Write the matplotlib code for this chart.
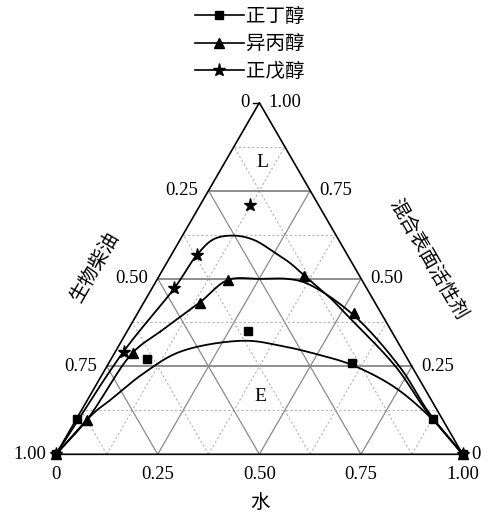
import numpy as np
import matplotlib
matplotlib.use("Agg")
import matplotlib.pyplot as plt
from matplotlib.lines import Line2D

plt.rcParams['font.family'] = ['Liberation Serif', 'Noto Sans CJK SC']

# measured points, (water, surfactant) fractions; biodiesel = 1 - water - surfactant
butanol_water = [0.0, 0.002, 0.088, 0.297, 0.598, 0.876, 1.0]
butanol_surf = [0.0, 0.100, 0.271, 0.352, 0.261, 0.100, 0.0]
ipa_water = [0.0, 0.027, 0.046, 0.139, 0.174, 0.356, 0.531, 1.0]
ipa_surf = [0.0, 0.098, 0.289, 0.431, 0.496, 0.507, 0.403, 0.0]
pentanol_water = [0.0, 0.022, 0.053, 0.063, 0.122, 1.0]
pentanol_surf = [0.0, 0.292, 0.472, 0.567, 0.709, 0.0]

# fitted binodal curves
butanol_curve_w = [0.0, 0.034, 0.056, 0.100, 0.160, 0.300, 0.397, 0.509, 0.601, 0.735, 0.875, 1.0]
butanol_curve_s = [0.0, 0.117, 0.154, 0.230, 0.292, 0.323, 0.309, 0.282, 0.254, 0.192, 0.100, 0.0]
ipa_curve_w = [0.0, 0.027, 0.044, 0.082, 0.110, 0.139, 0.175, 0.253, 0.319, 0.374, 0.529, 0.725, 0.856, 1.0]
ipa_curve_s = [0.0, 0.098, 0.289, 0.349, 0.391, 0.434, 0.496, 0.499, 0.499, 0.486, 0.399, 0.245, 0.120, 0.0]
pentanol_curve_w = [0.0, 0.020, 0.055, 0.063, 0.082, 0.126, 0.181, 0.247, 0.305, 0.354, 0.404, 0.453,
                    0.512, 0.711, 0.846, 1.0]
pentanol_curve_s = [0.0, 0.292, 0.474, 0.567, 0.612, 0.622, 0.610, 0.576, 0.543, 0.510, 0.477, 0.444,
                    0.400, 0.249, 0.126, 0.0]

tick_vals = [0, 0.25, 0.5, 0.75, 1.0]
tick_text = ['0', '0.25', '0.50', '0.75', '1.00']

H = np.sqrt(3) / 2


def tern(w, s):
    w = np.asarray(w, float)
    s = np.asarray(s, float)
    return w + s / 2, s * H


def smooth(xs, ys, n=25):
    # centripetal catmull-rom through the read points
    P = np.column_stack([xs, ys])
    P = np.vstack([2 * P[0] - P[1], P, 2 * P[-1] - P[-2]])
    out = []
    for i in range(1, len(P) - 2):
        p0, p1, p2, p3 = P[i - 1:i + 3]
        t0 = 0.0
        t1 = t0 + np.linalg.norm(p1 - p0) ** 0.5
        t2 = t1 + np.linalg.norm(p2 - p1) ** 0.5
        t3 = t2 + np.linalg.norm(p3 - p2) ** 0.5
        t = np.linspace(t1, t2, n)[:, None]
        A1 = (t1 - t) / (t1 - t0) * p0 + (t - t0) / (t1 - t0) * p1
        A2 = (t2 - t) / (t2 - t1) * p1 + (t - t1) / (t2 - t1) * p2
        A3 = (t3 - t) / (t3 - t2) * p2 + (t - t2) / (t3 - t2) * p3
        B1 = (t2 - t) / (t2 - t0) * A1 + (t - t0) / (t2 - t0) * A2
        B2 = (t3 - t) / (t3 - t1) * A2 + (t - t1) / (t3 - t1) * A3
        out.append((t2 - t) / (t2 - t1) * B1 + (t - t1) / (t2 - t1) * B2)
    out = np.vstack(out)
    return out[:, 0], out[:, 1]


fig = plt.figure(figsize=(4.91, 5.16), dpi=100)
ax = fig.add_axes([56 / 491, 61.7 / 516, 406.7 / 491, 351.6 / 516])
ax.set_xlim(0, 1)
ax.set_ylim(0, H)
ax.axis('off')

# grid
for v in np.arange(0.125, 1.0, 0.125):
    major = abs(v / 0.25 - round(v / 0.25)) < 1e-6
    if major:
        kw_h = dict(color='#707070', lw=1.1, ls='-')
        kw = dict(color='#8a8a8a', lw=0.9, ls='-')
    else:
        kw_h = dict(color='#b4b4b4', lw=0.8, ls=(0, (2, 2)))
        kw = kw_h
    x, y = tern([0, 1 - v], [v, v])
    ax.plot(x, y, **kw_h)
    x, y = tern([v, v], [0, 1 - v])
    ax.plot(x, y, **kw)
    x, y = tern([1 - v, 0], [0, 1 - v])
    ax.plot(x, y, **kw)

# triangle frame
x, y = tern([0, 1, 0, 0], [0, 0, 1, 0])
ax.plot(x, y, color='black', lw=1.2, clip_on=False)
ax.plot([0.5 - 0.016, 0.5], [H, H], color='black', lw=1.0, clip_on=False)

fs = 13.5
px = 1 / 406.7
for v, t in zip(tick_vals, tick_text):
    ax.text(v, -20 * px, t, ha='center', va='center', fontsize=fs)
    xe, ye = tern(0, v)
    ax.text(xe - 10 * px, ye, tick_text[len(tick_text) - 1 - tick_vals.index(v)],
            ha='right', va='center', fontsize=fs)
    xe, ye = tern(1 - v, v)
    ax.text(xe + 9 * px, ye, t, ha='left', va='center', fontsize=fs)

ax.text(0.502, -0.12, '水', ha='center', va='center', fontsize=14)
ax.text(0.096, 0.462, '生物柴油', ha='center', va='center', fontsize=14, rotation=60)
ax.text(0.913, 0.481, '混合表面活性剂', ha='center', va='center', fontsize=14, rotation=-60)
ax.text(0.507, 0.718, 'L', ha='center', va='center', fontsize=14)
ax.text(0.502, 0.142, 'E', ha='center', va='center', fontsize=14)

# curves
for cw, cs in [(butanol_curve_w, butanol_curve_s), (ipa_curve_w, ipa_curve_s),
               (pentanol_curve_w, pentanol_curve_s)]:
    x, y = tern(cw, cs)
    sx, sy = smooth(x, y)
    ax.plot(sx, sy, color='black', lw=1.3, clip_on=False)

series = [
    ('正丁醇', butanol_water, butanol_surf, 's', 6),
    ('异丙醇', ipa_water, ipa_surf, '^', 7.5),
    ('正戊醇', pentanol_water, pentanol_surf, '*', 9.5),
]
handles = []
for name, ww, ss, m, ms in series:
    x, y = tern(ww, ss)
    ax.plot(x, y, ls='none', marker=m, ms=ms, color='black', clip_on=False, zorder=5)
    handles.append(Line2D([], [], color='black', lw=1.2, marker=m, ms=ms, label=name))

fig.legend(handles=handles, loc='upper left', bbox_to_anchor=(195 / 491, 0.985),
           frameon=False, fontsize=14, handlelength=2.5, handletextpad=0.1,
           labelspacing=0.48, borderpad=0, borderaxespad=0)

fig.savefig('out.png', dpi=100)
